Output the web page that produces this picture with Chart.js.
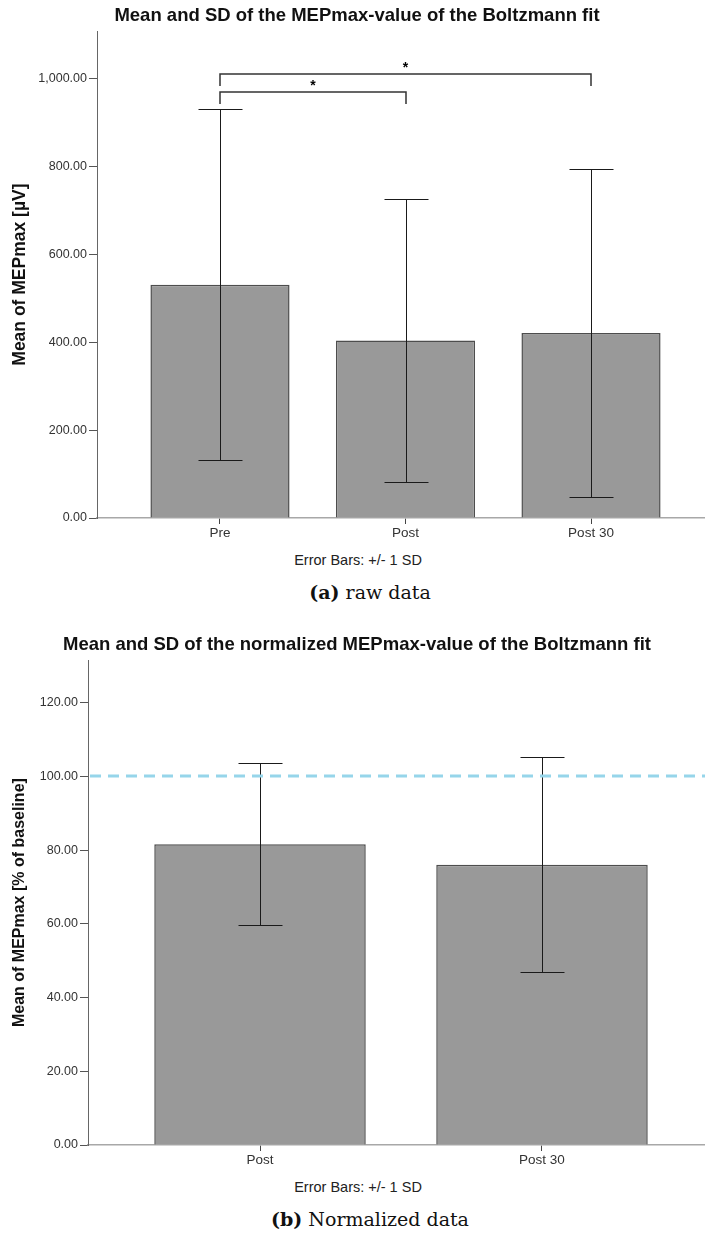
<!DOCTYPE html>
<html>
<head>
<meta charset="utf-8">
<script src="https://cdn.jsdelivr.net/npm/chart.js@4.4.1/dist/chart.umd.min.js"></script>
<style>
html, body { margin: 0; padding: 0; background: #fff; overflow: hidden; width: 705px; height: 1236px; }
.box { position: absolute; left: 0; }
.note { position: absolute; left: 0; width: 716px; text-align: center; font: 14.5px "Liberation Sans", Arial, sans-serif; color: #222; line-height: 16px; }
.cap { position: absolute; left: 0; width: 740px; text-align: center; font: 19px "DejaVu Serif", "Liberation Serif", serif; color: #111; line-height: 24px; }
</style>
</head>
<body>
<div class="box" style="top:0"><canvas id="raw" width="720" height="545"></canvas></div>
<div class="note" style="top:552px">Error Bars: +/- 1 SD</div>
<div class="cap" style="top:580px"><b>(a)</b> raw data</div>
<div class="box" style="top:630px"><canvas id="norm" width="720" height="542"></canvas></div>
<div class="note" style="top:1179px">Error Bars: +/- 1 SD</div>
<div class="cap" style="top:1207px"><b>(b)</b> Normalized data</div>

<script>
// raw MEPmax values (µV)
const rawLabels = ['Pre', 'Post', 'Post 30']
const rawMeans = [531, 404, 421]
const rawSD = [400, 322, 374]
const rawTicks = [0, 200, 400, 600, 800, 1000]
const sigPairs = [[0, 1], [0, 2]]
const sigLevels = [970, 1010]

// normalized MEPmax (% of baseline)
const normLabels = ['Post', 'Post 30']
const normMeans = [81.6, 76.0]
const normSD = [22.0, 29.2]
const normTicks = [0, 20, 40, 60, 80, 100, 120]
const normBaseline = 100

Chart.defaults.font.family = '"Liberation Sans", Arial, sans-serif'

const errorBars = {
    id: 'errorBars',
    afterDatasetsDraw(chart, args, opts) {
        if (!opts.means) return
        const {ctx, scales: {x, y}} = chart
        ctx.save()
        ctx.strokeStyle = '#1a1a1a'
        ctx.lineWidth = 1
        opts.means.forEach((m, i) => {
            const px = Math.round(x.getPixelForValue(i + 1)) + 0.5
            const hi = Math.round(y.getPixelForValue(m + opts.sd[i])) + 0.5
            const lo = Math.round(y.getPixelForValue(m - opts.sd[i])) + 0.5
            ctx.beginPath()
            ctx.moveTo(px, hi); ctx.lineTo(px, lo)
            ctx.moveTo(px - 22, hi); ctx.lineTo(px + 22, hi)
            ctx.moveTo(px - 22, lo); ctx.lineTo(px + 22, lo)
            ctx.stroke()
        })
        ctx.restore()
    }
}

const sigBrackets = {
    id: 'sigBrackets',
    afterDatasetsDraw(chart, args, opts) {
        if (!opts.pairs) return
        const {ctx, scales: {x, y}} = chart
        ctx.save()
        ctx.strokeStyle = '#333'
        ctx.lineWidth = 1.5
        ctx.fillStyle = '#000'
        ctx.font = 'bold 14px "Liberation Sans", Arial, sans-serif'
        ctx.textAlign = 'center'
        ctx.textBaseline = 'middle'
        opts.pairs.forEach(([a, b], i) => {
            const x1 = Math.round(x.getPixelForValue(a + 1))
            const x2 = Math.round(x.getPixelForValue(b + 1))
            const yy = Math.round(y.getPixelForValue(opts.levels[i]))
            ctx.beginPath()
            ctx.moveTo(x1, yy + 12); ctx.lineTo(x1, yy); ctx.lineTo(x2, yy); ctx.lineTo(x2, yy + 12)
            ctx.stroke()
            ctx.fillText('*', (x1 + x2) / 2, yy - 6)
        })
        ctx.restore()
    }
}

const refLine = {
    id: 'refLine',
    afterDatasetsDraw(chart, args, opts) {
        if (opts.value == null) return
        const {ctx, chartArea, scales: {y}} = chart
        const yy = Math.round(y.getPixelForValue(opts.value))
        ctx.save()
        ctx.strokeStyle = '#96d5ea'
        ctx.lineWidth = 3
        ctx.setLineDash([11, 7])
        ctx.beginPath()
        ctx.moveTo(chartArea.left + 2, yy)
        ctx.lineTo(chartArea.right, yy)
        ctx.stroke()
        ctx.restore()
    }
}

function fmt(v) {
    return v.toLocaleString('en-US', {minimumFractionDigits: 2, maximumFractionDigits: 2})
}

function makeChart(id, cfg) {
    return new Chart(document.getElementById(id), {
        type: 'bar',
        data: {
            datasets: [{
                data: cfg.means.map((m, i) => ({x: i + 1, y: m})),
                backgroundColor: '#999999',
                borderColor: '#4d4d4d',
                borderWidth: 1.5,
                categoryPercentage: 1,
                barPercentage: 0.75
            }]
        },
        options: {
            responsive: false,
            animation: false,
            layout: { padding: { right: 6 } },
            plugins: {
                legend: { display: false },
                tooltip: { enabled: false },
                title: {
                    display: true,
                    text: cfg.title,
                    color: '#111',
                    font: { size: 18.5, weight: 'bold', lineHeight: 1.2 },
                    padding: { top: cfg.titleTop, bottom: 4 }
                },
                errorBars: { means: cfg.means, sd: cfg.sd },
                sigBrackets: cfg.sig || {},
                refLine: { value: cfg.baseline }
            },
            scales: {
                x: {
                    type: 'linear',
                    offset: false,
                    min: cfg.xMin,
                    max: cfg.xMax,
                    afterBuildTicks: s => { s.ticks = cfg.labels.map((l, i) => ({value: i + 1})) },
                    afterFit: s => { s.height = 27 },
                    ticks: { callback: v => cfg.labels[v - 1], color: '#333', font: { size: 13.5 }, padding: 1, maxRotation: 0 },
                    grid: { offset: false, drawOnChartArea: false, tickLength: 6, tickColor: '#444' },
                    border: { color: '#a8a8a8', width: 1.5 }
                },
                y: {
                    min: 0,
                    max: cfg.yMax,
                    afterBuildTicks: s => { s.ticks = cfg.ticks.map(v => ({value: v})) },
                    afterFit: s => { s.width = cfg.yWidth },
                    ticks: { callback: v => fmt(v), color: '#333', font: { size: 12.5 }, padding: 2 },
                    grid: { drawOnChartArea: false, tickLength: 8, tickColor: '#555' },
                    border: { color: '#666', width: 1 },
                    title: {
                        display: true,
                        text: cfg.yTitle,
                        color: '#111',
                        font: { size: cfg.yTitleSize, weight: 'bold' },
                        padding: { top: 10, bottom: 0 }
                    }
                }
            }
        },
        plugins: [errorBars, sigBrackets, refLine]
    })
}

makeChart('raw', {
    title: 'Mean and SD of the MEPmax-value of the Boltzmann fit',
    titleTop: 5,
    yTitle: 'Mean of MEPmax [µV]', yTitleSize: 17.5,
    labels: rawLabels, means: rawMeans, sd: rawSD, ticks: rawTicks,
    yMax: 1108, yWidth: 97, xMin: 0.337, xMax: 3.663,
    sig: { pairs: sigPairs, levels: sigLevels }
})

makeChart('norm', {
    title: 'Mean and SD of the normalized MEPmax-value of the Boltzmann fit',
    titleTop: 4,
    yTitle: 'Mean of MEPmax [% of baseline]', yTitleSize: 16,
    labels: normLabels, means: normMeans, sd: normSD, ticks: normTicks,
    yMax: 131.5, yWidth: 88, xMin: 0.39, xMax: 2.61,
    baseline: normBaseline
})
</script>
</body>
</html>
